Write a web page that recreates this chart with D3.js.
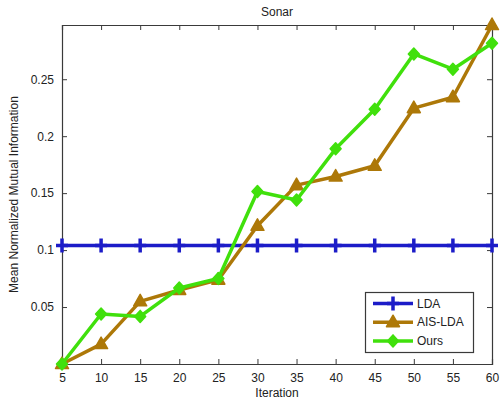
<!DOCTYPE html>
<html>
<head>
<meta charset="utf-8">
<script src="https://cdn.jsdelivr.net/npm/d3@7"></script>
<style>
  html, body { margin: 0; padding: 0; background: #fff; }
  text { font-family: "Liberation Sans", Arial, sans-serif; }
</style>
</head>
<body>
<svg id="chart" width="500" height="406"></svg>
<script>
// Iteration counts on the x axis
const iterations = [5, 10, 15, 20, 25, 30, 35, 40, 45, 50, 55, 60];
// Mean normalized mutual information per method
const ldaValues    = [0.104, 0.104, 0.104, 0.104, 0.104, 0.104, 0.104, 0.104, 0.104, 0.104, 0.104, 0.104];
const aisLdaValues = [0.000, 0.0175, 0.055, 0.065, 0.074, 0.1213, 0.157, 0.1646, 0.174, 0.2246, 0.2342, 0.2976];
const oursValues   = [0.000, 0.0439, 0.0418, 0.0667, 0.075, 0.1514, 0.144, 0.1889, 0.2237, 0.2722, 0.2588, 0.2816];
// Axis tick labels
const xTicks = [5, 10, 15, 20, 25, 30, 35, 40, 45, 50, 55, 60];
const yTicks = [0.05, 0.1, 0.15, 0.2, 0.25];

const seriesNames = ["LDA", "AIS-LDA", "Ours"];
const seriesColors = ["#1c1cc8", "#ad7808", "#40e00c"];
const seriesMarkers = ["plus", "triangle", "diamond"];
const seriesValues = [ldaValues, aisLdaValues, oursValues];

const svg = d3.select("#chart");
const m = { left: 62, right: 8, top: 25, bottom: 42 };
const W = 500, H = 406;
const x = d3.scaleLinear().domain([5, 60]).range([m.left, W - m.right]);
const y = d3.scaleLinear().domain([0, 0.2976]).range([H - m.bottom, m.top]);

const axisColor = "#3a3a3a";
const tickLen = 5;
const fontSize = 12;

// Title
svg.append("text").attr("x", (m.left + W - m.right) / 2).attr("y", 16)
  .attr("text-anchor", "middle").attr("font-size", fontSize).attr("fill", "#222").text("Sonar");

// Axes (ticks pointing inward, box on)
const gx = svg.append("g").attr("transform", `translate(0,${H - m.bottom})`)
  .call(d3.axisBottom(x).tickValues(xTicks).tickSize(-tickLen).tickPadding(9).tickFormat(d3.format("d")));
const gxTop = svg.append("g").attr("transform", `translate(0,${m.top})`)
  .call(d3.axisTop(x).tickValues(xTicks).tickSize(-tickLen).tickFormat(""));
const gy = svg.append("g").attr("transform", `translate(${m.left},0)`)
  .call(d3.axisLeft(y).tickValues(yTicks).tickSize(-tickLen).tickPadding(8).tickFormat(d => String(+d.toFixed(2))));
const gyR = svg.append("g").attr("transform", `translate(${W - m.right},0)`)
  .call(d3.axisRight(y).tickValues(yTicks).tickSize(-tickLen).tickFormat(""));

[gx, gxTop, gy, gyR].forEach(g => {
  g.select(".domain").attr("stroke", axisColor).attr("stroke-width", 1.2);
  g.selectAll(".tick line").attr("stroke", axisColor).attr("stroke-width", 1);
  g.selectAll(".tick text").attr("font-size", fontSize).attr("fill", "#222")
    .style("font-family", "'Liberation Sans', Arial, sans-serif");
});

// Axis labels
svg.append("text").attr("x", (m.left + W - m.right) / 2).attr("y", 397)
  .attr("text-anchor", "middle").attr("font-size", fontSize).attr("fill", "#222").text("Iteration");
svg.append("text").attr("transform", `translate(18,${(m.top + H - m.bottom) / 2}) rotate(-90)`)
  .attr("text-anchor", "middle").attr("font-size", fontSize).attr("fill", "#222")
  .text("Mean Normalized Mutual Information");

// Marker shapes
function drawMarker(g, type, cx, cy, color) {
  if (type === "plus") {
    g.append("path").attr("d", `M${cx - 6},${cy}H${cx + 6}M${cx},${cy - 7}V${cy + 7}`)
      .attr("stroke", color).attr("stroke-width", 3.5).attr("fill", "none");
  } else if (type === "triangle") {
    g.append("path").attr("d", `M${cx},${cy - 7}L${cx + 6.5},${cy + 4.5}L${cx - 6.5},${cy + 4.5}Z`)
      .attr("fill", color).attr("stroke", color).attr("stroke-width", 1.5).attr("stroke-linejoin", "round");
  } else {
    g.append("path").attr("d", `M${cx},${cy - 6}L${cx + 5.5},${cy}L${cx},${cy + 6}L${cx - 5.5},${cy}Z`)
      .attr("fill", color).attr("stroke", color).attr("stroke-width", 1.5).attr("stroke-linejoin", "round");
  }
}

const line = d3.line().x((d, i) => x(iterations[i])).y(d => y(d));

seriesValues.forEach((vals, s) => {
  const g = svg.append("g");
  g.append("path").datum(vals).attr("d", line)
    .attr("fill", "none").attr("stroke", seriesColors[s]).attr("stroke-width", 3.5)
    .attr("stroke-linejoin", "round");
  vals.forEach((v, i) => drawMarker(g, seriesMarkers[s], x(iterations[i]), y(v), seriesColors[s]));
});

// Legend
const lg = svg.append("g");
lg.append("rect").attr("x", 365.5).attr("y", 292.5).attr("width", 108).attr("height", 60)
  .attr("fill", "#fff").attr("stroke", axisColor).attr("stroke-width", 1.2);
seriesNames.forEach((name, s) => {
  const ly = 303.5 + s * 18.7;
  lg.append("line").attr("x1", 373).attr("x2", 413).attr("y1", ly).attr("y2", ly)
    .attr("stroke", seriesColors[s]).attr("stroke-width", 3.5);
  drawMarker(lg, seriesMarkers[s], 393, ly, seriesColors[s]);
  lg.append("text").attr("x", 417).attr("y", ly + 4).attr("font-size", fontSize).attr("fill", "#222").text(name);
});
</script>
</body>
</html>
